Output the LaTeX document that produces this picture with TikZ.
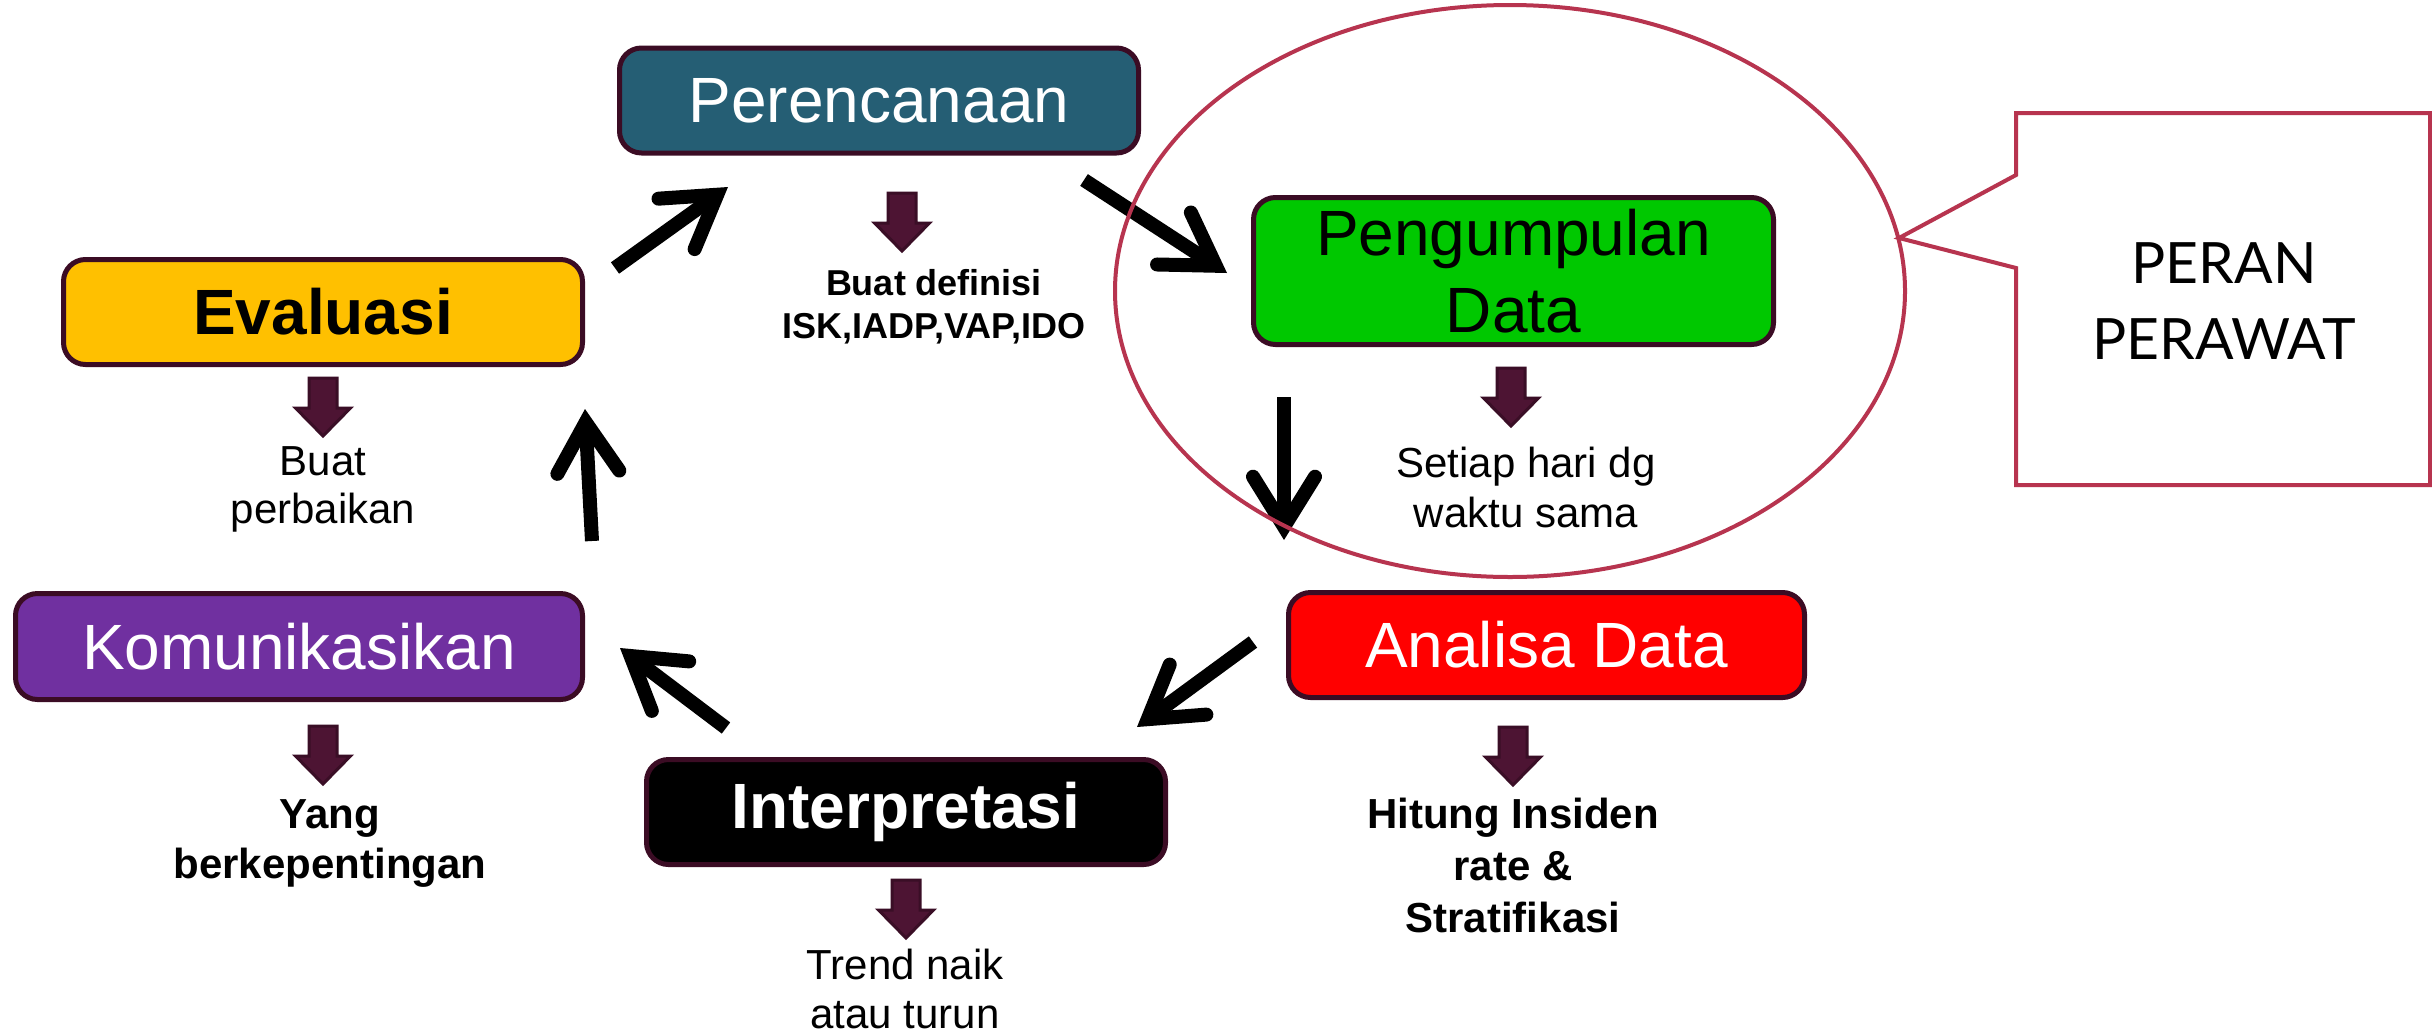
\documentclass[tikz,border=0pt]{standalone}
\usepackage{fontspec}
\setmainfont{Liberation Sans}
\newfontfamily\calloutfont{Lato}
\usetikzlibrary{arrows.meta,calc}

\definecolor{boxline}{HTML}{3B0C24}
\definecolor{planfill}{HTML}{255E74}
\definecolor{evalfill}{HTML}{FFC000}
\definecolor{collectfill}{HTML}{00C800}
\definecolor{analysisfill}{HTML}{FF0000}
\definecolor{commfill}{HTML}{7030A0}
\definecolor{stepfill}{HTML}{4D1433}
\definecolor{stepline}{HTML}{3A0E26}
\definecolor{rolered}{HTML}{B7344F}

\tikzset{
  stage/.style={draw=boxline, line width=5pt, rounded corners=22pt, inner sep=0pt,
    minimum width=519pt, minimum height=105pt, align=center},
  bigtext/.style={font=\fontsize{64}{77}\selectfont},
  bigbold/.style={font=\fontsize{64}{77}\selectfont\bfseries},
  % multi-line notes are placed by the baseline of their last line
  note/.style={align=center, inner sep=0pt, anchor=base, font=\fontsize{42}{49}\selectfont},
  boldnote/.style={note, font=\fontsize{42}{50}\selectfont\bfseries},
  flow/.style={line width=14pt, -{Straight Barb[length=50pt, width=62pt, line cap=round]}},
  ring/.style={draw=rolered, line width=4pt},
  dnarrow/.pic={
    \draw[fill=stepfill, draw=stepline, line width=3pt, line join=miter]
      (-14,0) -- (14,0) -- (14,30) -- (27.5,30) -- (0,58) -- (-27.5,30) -- (-14,30) -- cycle;
  }
}

\begin{document}
\begin{tikzpicture}[x=1pt, y=-1pt]
  \fill[white] (0,0) rectangle (2432,1034);
  \useasboundingbox (0,0) rectangle (2432,1034);

  % stages of the cycle
  \node[stage, fill=planfill, text=white, bigtext] (plan) at (879,100.5) {Perencanaan};
  \node[stage, fill=evalfill, bigbold] (eval) at (323,312) {Evaluasi};
  \node[stage, fill=collectfill, bigtext, minimum width=520pt, minimum height=147pt] (collect)
    at (1513.5,271) {Pengumpulan\\Data};
  \node[stage, fill=analysisfill, text=white, bigtext, minimum width=516pt] (analysis)
    at (1546.5,645) {Analisa Data};
  \node[stage, fill=commfill, text=white, bigtext, minimum width=567pt, minimum height=106pt] (comm)
    at (299,646.5) {Komunikasikan};
  \node[stage, fill=black, text=white, bigbold] (interp) at (906,812) {Interpretasi};

  % small step arrows under each stage
  \pic at (902,193) {dnarrow};
  \pic at (323,378) {dnarrow};
  \pic at (323,726) {dnarrow};
  \pic at (1511,368) {dnarrow};
  \pic at (1513,727) {dnarrow};
  \pic at (906,880) {dnarrow};

  % notes under the stages
  \node[boldnote, font=\fontsize{36}{43}\selectfont\bfseries] (plannote) at (934,338)
    {Buat definisi\\ISK,IADP,VAP,IDO};
  \node[note, font=\fontsize{42}{48}\selectfont] (evalnote) at (323,523) {Buat\\perbaikan};
  \node[boldnote] (commnote) at (330,878) {Yang\\berkepentingan};
  \node[note, font=\fontsize{42}{50}\selectfont] (collectnote) at (1526,527) {Setiap hari dg\\waktu sama};
  \node[boldnote, font=\fontsize{42}{52}\selectfont\bfseries] (analysisnote) at (1513,932)
    {Hitung Insiden\\rate \&\\Stratifikasi};
  \node[note] (interpnote) at (905,1028) {Trend naik\\atau turun};

  % ends of the cycle arrows
  \coordinate (ep-a) at (615,268);   \coordinate (ep-b) at (728,187);
  \coordinate (pc-a) at (1084,180);  \coordinate (pc-b) at (1227,273);
  \coordinate (ca-a) at (1284,397);  \coordinate (ca-b) at (1284,540);
  \coordinate (ai-a) at (1253,642);  \coordinate (ai-b) at (1137,727);
  \coordinate (ik-a) at (726,728);   \coordinate (ik-b) at (620,648);
  \coordinate (ke-a) at (592,541);   \coordinate (ke-b) at (585,409);

  \draw[flow] (ep-a) -- (ep-b);
  \draw[flow] (pc-a) -- (pc-b);
  \draw[flow] (ca-a) -- (ca-b);
  \draw[flow] (ai-a) -- (ai-b);
  \draw[flow] (ik-a) -- (ik-b);
  \draw[flow] (ke-a) -- (ke-b);

  % the nurse's role: ring round data collection and its callout
  \draw[ring] (1510,291) ellipse [x radius=395pt, y radius=286pt];
  \draw[ring, line join=miter] (2016,113) -- (2430,113) -- (2430,485) -- (2016,485)
    -- (2016,268) -- (1899,238) -- (2016,175) -- cycle;
  \node[align=center, inner sep=0pt, anchor=base, font=\calloutfont\fontsize{57}{76}\selectfont]
    (role) at (2224,359) {PERAN\\PERAWAT};
\end{tikzpicture}
\end{document}
